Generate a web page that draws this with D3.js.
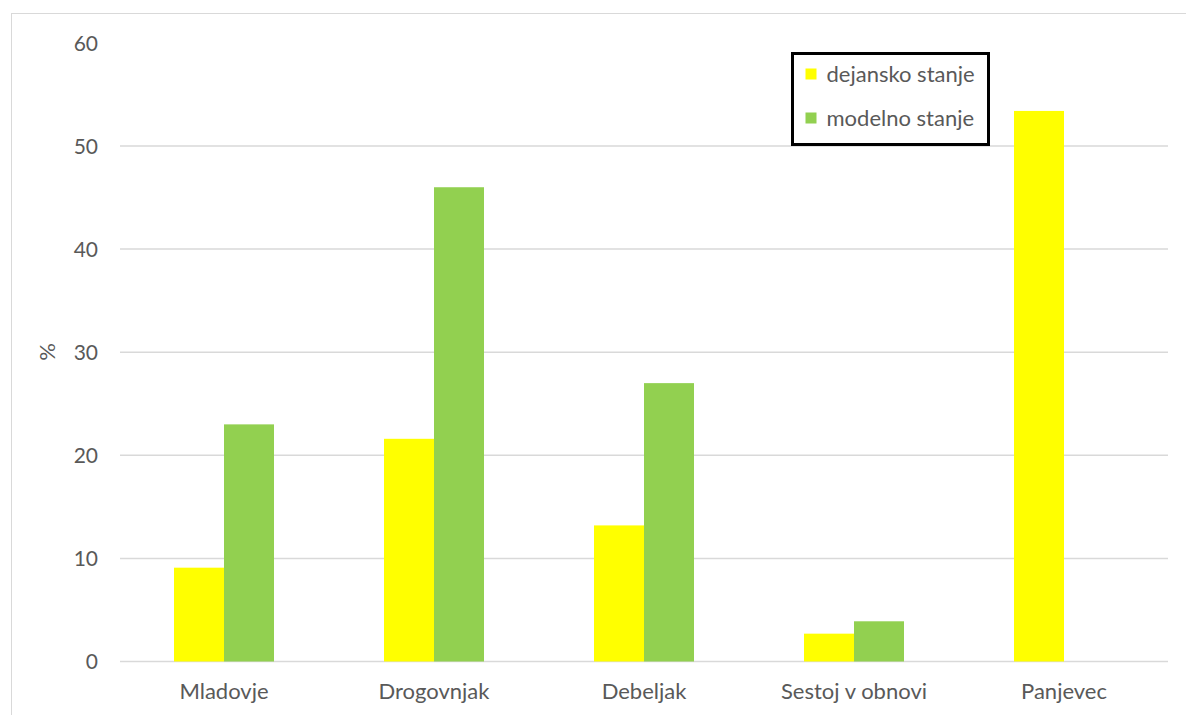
<!DOCTYPE html>
<html>
<head>
<meta charset="utf-8">
<script src="https://cdn.jsdelivr.net/npm/d3@7"></script>
<style>
  html, body { margin: 0; padding: 0; background: #fff; }
  svg { display: block; font-family: Lato, "Open Sans", sans-serif; }
</style>
</head>
<body>
<svg id="chart" width="1186" height="715"></svg>
<script>
// Category labels and the two series (percent)
const categories = ["Mladovje", "Drogovnjak", "Debeljak", "Sestoj v obnovi", "Panjevec"];
const seriesNames = ["dejansko stanje", "modelno stanje"];
const dejansko = [9.1, 21.6, 13.2, 2.7, 53.4];
const modelno = [23.0, 46.0, 27.0, 3.9, 0];
const yTicks = [0, 10, 20, 30, 40, 50, 60];
const colors = ["#ffff00", "#92d050"];

const svg = d3.select("#chart");
const W = 1186, H = 715;
const plot = { left: 119, right: 1169, top: 42.9, bottom: 661.5 };
const textColor = "#595959";

// outer chart frame
svg.append("rect")
  .attr("x", 11.5).attr("y", 13.5)
  .attr("width", W + 10).attr("height", H + 10)
  .attr("fill", "#fff").attr("stroke", "#d9d9d9").attr("stroke-width", 1);

const x0 = d3.scaleBand().domain(categories).range([plot.left, plot.right]).paddingInner(0).paddingOuter(0);
const x1 = d3.scaleBand().domain(seriesNames).range([0, 100]);
const y = d3.scaleLinear().domain([0, 60]).range([plot.bottom, plot.top]);

// gridlines
svg.append("g")
  .selectAll("line")
  .data(yTicks.filter(d => d < 60))
  .join("line")
  .attr("x1", plot.left + 1).attr("x2", plot.right - 1)
  .attr("y1", d => y(d)).attr("y2", d => y(d))
  .attr("stroke", "#d9d9d9").attr("stroke-width", 1.5);

// y axis labels
const yAxis = d3.axisLeft(y).tickValues(yTicks).tickSize(0).tickPadding(0);
const gy = svg.append("g").attr("transform", `translate(${plot.left - 21},0)`).call(yAxis);
gy.select(".domain").remove();
gy.selectAll("text")
  .attr("fill", textColor).attr("font-size", 21).attr("dy", "0.35em")
  .style("font-family", "Lato, 'Open Sans', sans-serif");

// x axis labels
const xAxis = d3.axisBottom(x0).tickSize(0).tickPadding(0);
const gx = svg.append("g").attr("transform", `translate(0,${plot.bottom + 22})`).call(xAxis);
gx.select(".domain").remove();
gx.selectAll("text")
  .attr("fill", textColor).attr("font-size", 22).attr("dy", "0.71em")
  .style("font-family", "Lato, 'Open Sans', sans-serif");

// axis title
svg.append("text")
  .attr("transform", `translate(${55},${352}) rotate(-90)`)
  .attr("text-anchor", "middle")
  .attr("fill", textColor).attr("font-size", 22)
  .text("%");

// bars
const rows = categories.map((c, i) => ({ cat: c, vals: [dejansko[i], modelno[i]] }));
const groups = svg.append("g").selectAll("g")
  .data(rows)
  .join("g")
  .attr("transform", d => `translate(${x0(d.cat) + x0.bandwidth() / 2 - 50},0)`);
groups.selectAll("rect")
  .data(d => d.vals.map((v, j) => ({ s: seriesNames[j], v, j })))
  .join("rect")
  .attr("x", d => x1(d.s))
  .attr("width", x1.bandwidth())
  .attr("y", d => y(d.v))
  .attr("height", d => y(0) - y(d.v))
  .attr("fill", d => colors[d.j]);

// legend
const lg = svg.append("g").attr("transform", "translate(792.5,53.5)");
lg.append("rect")
  .attr("width", 196).attr("height", 91)
  .attr("fill", "#fff").attr("stroke", "#000").attr("stroke-width", 3);
seriesNames.forEach((n, i) => {
  const row = lg.append("g").attr("transform", `translate(13,${21 + i * 44})`);
  row.append("rect").attr("x", 0).attr("y", -6).attr("width", 11).attr("height", 11).attr("fill", colors[i]);
  row.append("text").attr("x", 21).attr("y", 0).attr("dy", "0.35em")
    .attr("fill", textColor).attr("font-size", 22).text(n);
});
</script>
</body>
</html>
